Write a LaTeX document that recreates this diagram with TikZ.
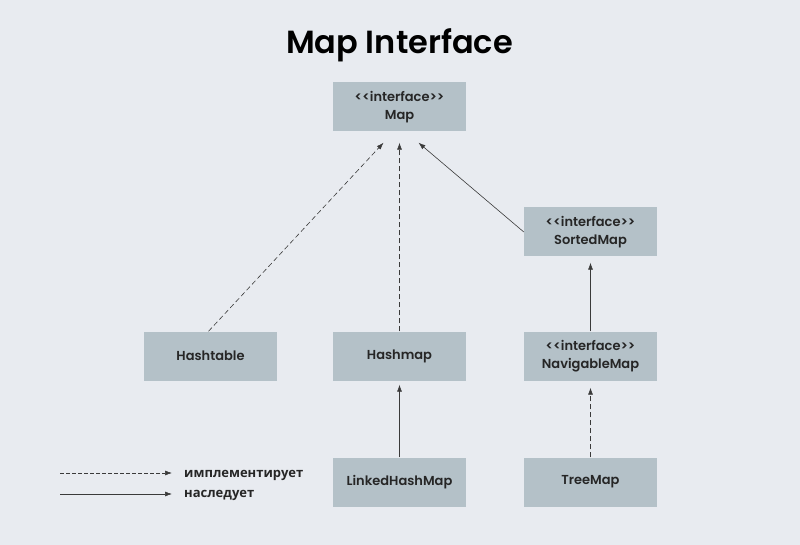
\documentclass[tikz,border=0pt]{standalone}
\usepackage{fontspec}
\setmainfont{Poppins}[BoldFont={Poppins SemiBold}]
\newfontfamily\rufont{Open Sans}
\usetikzlibrary{calc}
\usetikzlibrary{positioning}
\usetikzlibrary{arrows.meta}
\definecolor{bggray}{HTML}{E8EBF0}
\definecolor{boxgray}{HTML}{B4C1C8}
\definecolor{linegray}{HTML}{3A3A3A}
\newcommand{\stereotype}[1]{<\kern0pt<#1>\kern0pt>}
\tikzset{
  classbox/.style={fill=boxgray, draw=none, minimum width=133pt, minimum height=49pt,
    inner sep=0pt, align=center, text=black!85,
    font=\bfseries\fontsize{13}{18}\selectfont},
  implarrow/.style={draw=linegray, line width=0.6pt, dash pattern=on 5pt off 3pt,
    -{Latex[length=7pt,width=5pt]}},
  inhearrow/.style={draw=linegray, line width=0.6pt, -{Latex[length=7pt,width=5pt]}},
  legendtext/.style={anchor=base west, inner sep=0pt, text=black!85,
    font=\rufont\bfseries\fontsize{13}{15}\selectfont},
}

\begin{document}
\begin{tikzpicture}[x=1pt,y=-1pt]

%%%%%%%%%%%%%%%%%%%%%%%%%%%%%%%%%%%%%%%%%%%%%%%%%%%%%%%%%%%%%% Setup
\coordinate (C) at (0, 0);
% background, fixes the size of the picture
\fill[bggray] ($(C)+(0,0)$) rectangle ($(C)+(800,545)$);

\node[font=\bfseries\fontsize{32}{36}\selectfont, text=black] (title) at ($(C)+(399.5,45)$) {Map Interface};

%%%%%%%%%%%%%%%%%%%%%%%%%%%%%%%%%%%%%%%%%%%%%%%%%%%%%%%%%%%%%% Boxes
\node[classbox] (map)       at ($(C)+(399.5,107)$) {\stereotype{interface}\\Map};
\node[classbox] (sortedmap) at ($(C)+(590.5,232)$) {\stereotype{interface}\\SortedMap};

\node[classbox] (hashtable) at ($(C)+(210.5,356)$) {Hashtable};
\node[classbox] (hashmap)   at ($(C)+(399.5,356)$) {Hashmap};
\node[classbox] (navmap)    at ($(C)+(590.5,356)$) {\stereotype{interface}\\NavigableMap};

\node[classbox] (linkedmap) at ($(C)+(399.5,482)$) {LinkedHashMap};
\node[classbox] (treemap)   at ($(C)+(590.5,482)$) {TreeMap};

%%%%%%%%%%%%%%%%%%%%%%%%%%%%%%%%%%%%%%%%%%%%%%%%%%%%%%%%%%%%%% Arrows
\coordinate (mapL) at ($(map.south)+(-16,11)$);
\coordinate (mapM) at ($(map.south)+(0,11)$);
\coordinate (mapR) at ($(map.south)+(19,11)$);

\draw[implarrow] ($(hashtable.north)+(-2,0)$) -- (mapL);
\draw[implarrow] (hashmap.north) -- (mapM);
\draw[inhearrow] (sortedmap.west) -- (mapR);

\draw[inhearrow, shorten >=6pt] (navmap.north) -- (sortedmap.south);
\draw[inhearrow, shorten >=4pt] (linkedmap.north) -- (hashmap.south);
\draw[implarrow, shorten >=7pt] (treemap.north) -- (navmap.south);

%%%%%%%%%%%%%%%%%%%%%%%%%%%%%%%%%%%%%%%%%%%%%%%%%%%%%%%%%%%%%% Legend
\node[legendtext] (impl) at ($(C)+(184,477.5)$) {имплементирует};
\node[legendtext] (inhe) at ($(C)+(184,497.5)$) {наследует};

\coordinate (implstart) at ($(C)+(60,473)$);
\coordinate (inhestart) at ($(C)+(60,494)$);

\draw[implarrow, dash pattern=on 4pt off 2pt, shorten >=12pt] (implstart) -- (implstart -| impl.west);
\draw[inhearrow, shorten >=12pt] (inhestart) -- (inhestart -| inhe.west);

\end{tikzpicture}
\end{document}
